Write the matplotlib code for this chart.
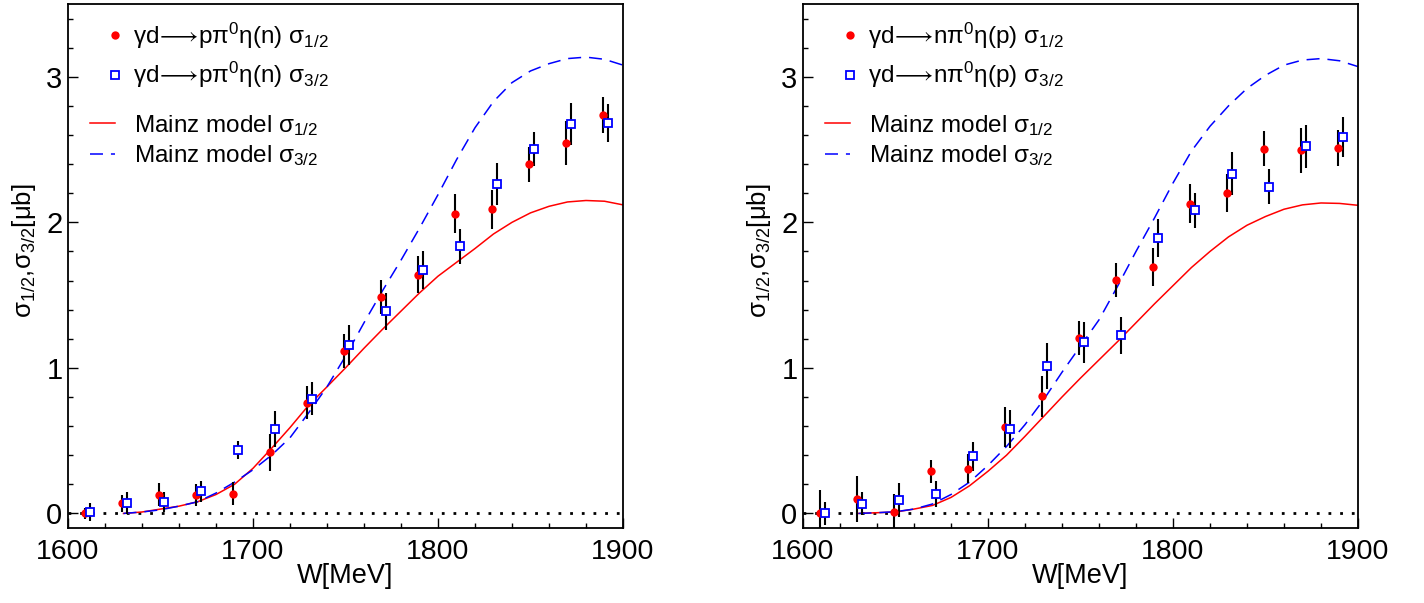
import numpy as np
import matplotlib
matplotlib.use("Agg")
import matplotlib.pyplot as plt
from matplotlib.ticker import MultipleLocator

plt.rcParams['font.family'] = ['Liberation Sans', 'DejaVu Sans']
plt.rcParams['mathtext.default'] = 'regular'

# measured points (red: sigma 1/2, blue: sigma 3/2, shifted by 3 MeV)
w_half = [1609, 1629, 1649, 1669, 1689, 1709, 1729, 1749, 1769, 1789, 1809, 1829, 1849, 1869, 1889]
w_3half = [1612, 1632, 1652, 1672, 1692, 1712, 1732, 1752, 1772, 1792, 1812, 1832, 1852, 1872, 1892]

# gamma d -> p pi0 eta (n)
p_half = [0.0, 0.07, 0.13, 0.126, 0.135, 0.42, 0.76, 1.113, 1.489, 1.64, 2.06, 2.09, 2.40, 2.545, 2.735]
p_half_err = [0.04, 0.06, 0.077, 0.078, 0.08, 0.128, 0.113, 0.117, 0.117, 0.128, 0.133, 0.135, 0.12, 0.152, 0.124]
p_3half = [0.01, 0.07, 0.078, 0.151, 0.437, 0.58, 0.788, 1.159, 1.388, 1.67, 1.835, 2.263, 2.504, 2.676, 2.683]
p_3half_err = [0.065, 0.075, 0.07, 0.07, 0.06, 0.126, 0.112, 0.137, 0.126, 0.13, 0.12, 0.145, 0.12, 0.144, 0.132]

# gamma d -> n pi0 eta (p)
n_half = [0.0, 0.10, 0.01, 0.29, 0.307, 0.593, 0.804, 1.207, 1.601, 1.693, 2.128, 2.201, 2.506, 2.495, 2.511]
n_half_err = [0.16, 0.16, 0.125, 0.08, 0.10, 0.135, 0.143, 0.117, 0.117, 0.13, 0.135, 0.133, 0.12, 0.153, 0.123]
n_3half = [0.0, 0.066, 0.094, 0.135, 0.394, 0.582, 1.012, 1.175, 1.223, 1.895, 2.082, 2.335, 2.243, 2.522, 2.586]
n_3half_err = [0.08, 0.08, 0.117, 0.09, 0.10, 0.13, 0.157, 0.14, 0.13, 0.13, 0.12, 0.148, 0.12, 0.147, 0.135]

# Mainz model curves
w_model = list(range(1630, 1901, 10))
p_model_half = [0.0, 0.01, 0.03, 0.05, 0.08, 0.13, 0.2, 0.31, 0.447, 0.59, 0.742, 0.87, 1.0, 1.135,
                1.265, 1.39, 1.515, 1.63, 1.725, 1.82, 1.92, 2.0, 2.065, 2.11, 2.14, 2.15, 2.145, 2.12]
p_model_3half = [0.0, 0.01, 0.025, 0.05, 0.08, 0.14, 0.215, 0.30, 0.40, 0.52, 0.69, 0.87, 1.08, 1.31,
                 1.53, 1.74, 1.96, 2.19, 2.43, 2.65, 2.83, 2.96, 3.04, 3.09, 3.125, 3.135, 3.12, 3.08]
n_model_half = [0.0, 0.005, 0.01, 0.03, 0.055, 0.11, 0.19, 0.29, 0.40, 0.53, 0.665, 0.80, 0.93, 1.055,
                1.18, 1.31, 1.44, 1.565, 1.69, 1.80, 1.90, 1.98, 2.04, 2.09, 2.12, 2.133, 2.13, 2.117]
n_model_3half = [0.0, 0.005, 0.012, 0.03, 0.065, 0.13, 0.215, 0.33, 0.46, 0.61, 0.78, 0.97, 1.15, 1.33,
                 1.56, 1.80, 2.03, 2.27, 2.49, 2.66, 2.80, 2.92, 3.01, 3.08, 3.115, 3.125, 3.11, 3.07]

panels = [
    (r"γd$\!\longrightarrow\!$pπ$^{0}$η(n)", p_half, p_half_err, p_3half, p_3half_err, p_model_half, p_model_3half),
    (r"γd$\!\longrightarrow\!$nπ$^{0}$η(p)", n_half, n_half_err, n_3half, n_3half_err, n_model_half, n_model_3half),
]

fig = plt.figure(figsize=(14.24, 6.03), dpi=100)
lefts = [68 / 1424, 803 / 1424]

for left, (reac, yh, eh, y3, e3, mh, m3) in zip(lefts, panels):
    ax = fig.add_axes([left, 75 / 603, 555 / 1424, 524 / 603])

    # zero line
    ax.plot([1600, 1900], [0, 0], color='black', lw=2.0, ls=(0, (1, 3.2)), zorder=1)

    l_half, = ax.plot(w_model, mh, color='red', lw=1.1, zorder=2)
    l_3half, = ax.plot(w_model, m3, color='blue', lw=1.1, ls=(0, (8.5, 5.2)), zorder=2)

    ax.errorbar(w_half, yh, yerr=eh, fmt='none', ecolor='black', elinewidth=1.5, capsize=0, zorder=3)
    ax.errorbar(w_3half, y3, yerr=e3, fmt='none', ecolor='black', elinewidth=1.5, capsize=0, zorder=3)
    d_half, = ax.plot(w_half, yh, 'o', color='red', ms=6, mew=0, zorder=4)
    d_3half, = ax.plot(w_3half, y3, 's', mfc='white', mec='blue', ms=6.3, mew=1.3, zorder=5)

    ax.set_xlim(1600, 1900)
    ax.set_ylim(-0.1, 3.5)
    ax.xaxis.set_major_locator(MultipleLocator(100))
    ax.xaxis.set_minor_locator(MultipleLocator(20))
    ax.yaxis.set_major_locator(MultipleLocator(1))
    ax.yaxis.set_minor_locator(MultipleLocator(0.2))
    ax.tick_params(which='both', direction='in', top=False, right=False, width=1.0)
    ax.tick_params(which='major', length=7)
    ax.tick_params(which='minor', length=3.6)
    ax.tick_params(axis='x', labelsize=20.5, pad=8)
    ax.tick_params(axis='y', labelsize=21, pad=4)
    for s in ax.spines.values():
        s.set_linewidth(1.3)

    ax.set_xlabel("W[MeV]", fontsize=19.5)
    ax.xaxis.set_label_coords(0.5, -0.066)
    ax.set_ylabel("σ$_{1/2}$,σ$_{3/2}$[μb]", fontsize=18.5)
    ax.yaxis.set_label_coords(-0.054, 0.529)

    leg1 = ax.legend([d_half, d_3half], [reac + " σ$_{1/2}$", reac + " σ$_{3/2}$"],
                     loc='upper left', bbox_to_anchor=(0.063, 0.968), frameon=False,
                     fontsize=17.5, handlelength=1.0, handletextpad=0.23, labelspacing=0.38,
                     borderpad=0, borderaxespad=0, numpoints=1)
    ax.add_artist(leg1)
    ax.legend([l_half, l_3half], ["Mainz model σ$_{1/2}$", "Mainz model σ$_{3/2}$"],
              loc='upper left', bbox_to_anchor=(0.0396, 0.792), frameon=False,
              fontsize=17.5, handlelength=1.03, handletextpad=0.78, labelspacing=0.23,
              borderpad=0, borderaxespad=0)

fig.savefig("out.png", dpi=100)
